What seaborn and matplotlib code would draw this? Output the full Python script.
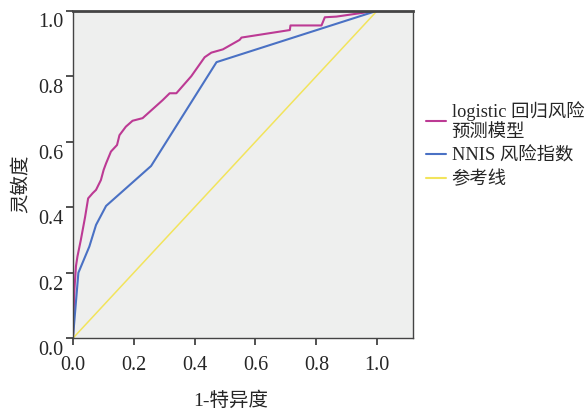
import pandas as pd
import matplotlib.pyplot as plt
import matplotlib.transforms as mtransforms
import seaborn as sns

# ROC curve points
logit_fpr = [0.0, 0.005, 0.010, 0.015, 0.026, 0.040, 0.050, 0.065, 0.076, 0.092, 0.101, 0.109,
             0.125, 0.145, 0.153, 0.174, 0.196, 0.229, 0.295, 0.318, 0.340, 0.389, 0.433,
             0.455, 0.493, 0.548, 0.554, 0.713, 0.715, 0.817, 0.828, 0.866, 1.0]
logit_tpr = [0.0, 0.15, 0.22, 0.25, 0.30, 0.37, 0.427, 0.443, 0.453, 0.483, 0.514, 0.534,
             0.570, 0.590, 0.620, 0.646, 0.664, 0.672, 0.727, 0.748, 0.748, 0.800, 0.858,
             0.872, 0.882, 0.911, 0.918, 0.941, 0.955, 0.955, 0.980, 0.982, 1.0]

nnis_fpr = [0.0, 0.018, 0.054, 0.076, 0.109, 0.257, 0.472, 1.0]
nnis_tpr = [0.0, 0.200, 0.280, 0.346, 0.404, 0.526, 0.843, 1.0]

ref_fpr = [0.0, 1.0]
ref_tpr = [0.0, 1.0]

ticks = [0.0, 0.2, 0.4, 0.6, 0.8, 1.0]
tick_labels = ['0.0', '0.2', '0.4', '0.6', '0.8', '1.0']
labels = ['logistic 回归风险\n预测模型', 'NNIS 风险指数', '参考线']
colors = ['#bc3a94', '#4a71c4', '#f2e45c']

df = pd.concat([
    pd.DataFrame({'fpr': logit_fpr, 'tpr': logit_tpr, 'model': labels[0]}),
    pd.DataFrame({'fpr': nnis_fpr, 'tpr': nnis_tpr, 'model': labels[1]}),
    pd.DataFrame({'fpr': ref_fpr, 'tpr': ref_tpr, 'model': labels[2]}),
])

sns.set_style('ticks')
plt.rcParams['font.family'] = ['Liberation Serif', 'Noto Sans CJK SC']

fig = plt.figure(figsize=(5.88, 4.12), dpi=100)
ax = fig.add_axes([0.124, 0.179, 0.578, 0.795])
ax.set_facecolor('#eeefee')

sns.lineplot(data=df, x='fpr', y='tpr', hue='model', palette=colors,
             estimator=None, sort=False, linewidth=1.5, ax=ax)
ax.lines[2].set_linewidth(1.1)

ax.set_xlim(0, 1.117)
ax.set_ylim(0, 1.0)
ax.set_xticks(ticks)
ax.set_yticks(ticks)
ax.set_xticklabels(tick_labels)
ax.set_yticklabels(tick_labels)
ax.tick_params(direction='out', length=5, width=1.2, labelsize=14.5, color='#333333')
ax.tick_params(axis='x', pad=8)
ax.tick_params(axis='y', pad=2)
# y tick labels sit a little below their ticks, as in the original
shift = mtransforms.ScaledTranslation(0, -2 / 72, fig.dpi_scale_trans)
for lbl in ax.get_yticklabels():
    lbl.set_verticalalignment('top')
    lbl.set_transform(lbl.get_transform() + shift)
for s in ax.spines.values():
    s.set_color('#444444')
    s.set_linewidth(1.0)
ax.spines['top'].set_linewidth(2.0)

ax.set_xlabel('1-特异度', fontsize=14)
ax.set_ylabel('灵敏度', fontsize=14)
ax.xaxis.set_label_coords(0.465, -0.162)
ax.yaxis.set_label_coords(-0.128, 0.473)

ax.legend(title=None, frameon=False, fontsize=13.2, loc='center left',
          bbox_to_anchor=(0.99, 0.59), handlelength=1.1, handletextpad=0.3,
          labelspacing=0.35, borderaxespad=0.5)

fig.savefig('out.png', dpi=100)
